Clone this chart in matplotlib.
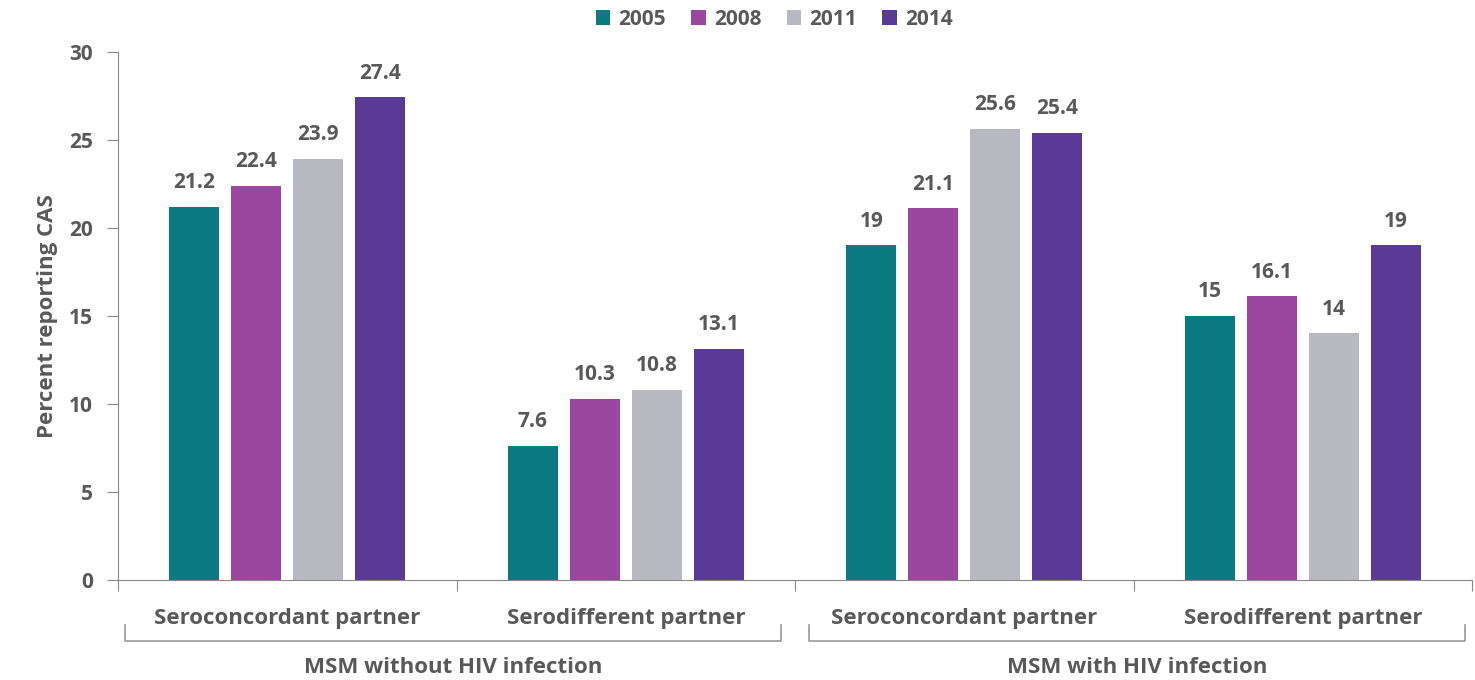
import numpy as np
import matplotlib.pyplot as plt
from matplotlib.transforms import blended_transform_factory

# data
years = ['2005', '2008', '2011', '2014']
categories = ['Seroconcordant partner', 'Serodifferent partner',
              'Seroconcordant partner', 'Serodifferent partner']
groups = ['MSM without HIV infection', 'MSM with HIV infection']
v2005 = [21.2, 7.6, 19, 15]
v2008 = [22.4, 10.3, 21.1, 16.1]
v2011 = [23.9, 10.8, 25.6, 14]
v2014 = [27.4, 13.1, 25.4, 19]
series = [v2005, v2008, v2011, v2014]
colors = ['#0b7a80', '#9b47a0', '#b8b8c0', '#5a3a97']

txt = '#595959'
fw = 'bold'
plt.rcParams['font.family'] = ['Open Sans', 'DejaVu Sans']
plt.rcParams['font.weight'] = fw

fig = plt.figure(figsize=(14.75, 6.8), dpi=100)
ax = fig.add_axes([0.08, 0.147, 0.918, 0.777])

centers = np.arange(len(categories)) + 0.5
step, width = 0.183, 0.147
for i, (vals, col) in enumerate(zip(series, colors)):
    xs = centers + (i - 1.5) * step
    ax.bar(xs, vals, width=width, color=col, label=years[i])
    for x, v in zip(xs, vals):
        ax.annotate(f'{v:g}', (x, v), xytext=(0, 10), textcoords='offset points',
                    ha='center', va='bottom', fontsize=15, color=txt, fontweight=fw)

ax.set_xlim(0, 4)
ax.set_ylim(0, 30)
ax.set_yticks(range(0, 31, 5))
ax.tick_params(axis='y', labelsize=15, labelcolor=txt, color='#888888', length=8, pad=10)
ax.set_xticks(range(0, 5))
ax.set_xticklabels([])
ax.tick_params(axis='x', color='#888888', length=8)
for s in ['top', 'right']:
    ax.spines[s].set_visible(False)
for s in ['left', 'bottom']:
    ax.spines[s].set_color('#888888')
ax.set_ylabel('Percent reporting CAS', fontsize=16, color=txt, fontweight=fw, labelpad=8)

trans = blended_transform_factory(ax.transData, ax.transAxes)
for c, lab in zip(centers, categories):
    ax.text(c, -0.073, lab, transform=trans, ha='center', va='center',
            fontsize=16, color=txt, fontweight=fw)

# group brackets
spans = [(0.02, 1.96), (2.04, 3.98)]
for (a, b), g in zip(spans, groups):
    ax.plot([a, a, b, b], [-0.085, -0.115, -0.115, -0.085], transform=trans,
            color='#999999', lw=1.2, clip_on=False)
    ax.text((a + b) / 2, -0.166, g, transform=trans, ha='center', va='center',
            fontsize=16, color=txt, fontweight=fw)

leg = fig.legend(loc='center', bbox_to_anchor=(0.525, 0.972), ncol=4, frameon=False,
                 fontsize=15, handlelength=0.7, handleheight=0.7, columnspacing=1.2,
                 handletextpad=0.4)
for t in leg.get_texts():
    t.set_color(txt)

fig.savefig('out.png', dpi=100)
